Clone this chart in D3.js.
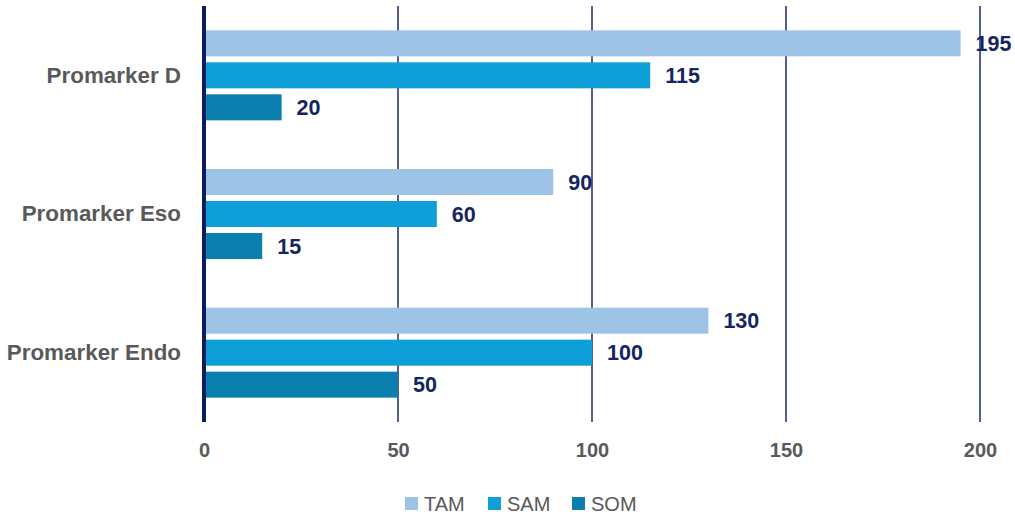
<!DOCTYPE html>
<html><head><meta charset="utf-8">
<script src="https://cdn.jsdelivr.net/npm/d3@7"></script>
<style>body{margin:0;background:#fff}svg{display:block}</style>
</head><body>
<script>
const categories = ["Promarker D", "Promarker Eso", "Promarker Endo"];
const seriesNames = ["TAM", "SAM", "SOM"];
const tam = [195, 90, 130];
const sam = [115, 60, 100];
const som = [20, 15, 50];
const ticks = [0, 50, 100, 150, 200];
const colors = ["#9dc3e6", "#0e9fd8", "#0b7fad"];

const W = 1015, H = 515;
const svg = d3.select("body").append("svg").attr("width", W).attr("height", H);
const font = "'Liberation Sans', Arial, sans-serif";

const x = d3.scaleLinear().domain([0, 200]).range([204, 980]);
const y = d3.scaleBand().domain(categories).range([6, 422]);
const inner = d3.scaleBand().domain(seriesNames).range([y.bandwidth()/2 - 45, y.bandwidth()/2 + 45]).paddingInner(0.1875);

// gridlines
svg.append("g").selectAll("line").data(ticks.slice(1)).join("line")
  .attr("x1", d => x(d)).attr("x2", d => x(d))
  .attr("y1", 6).attr("y2", 422)
  .attr("stroke", "#1b2a6b").attr("stroke-width", 1.5);

const series = [tam, sam, som];
const groups = svg.append("g").selectAll("g").data(categories).join("g")
  .attr("transform", d => `translate(0,${y(d)})`);

seriesNames.forEach((s, si) => {
  groups.append("rect")
    .attr("x", x(0))
    .attr("y", inner(s))
    .attr("width", (d, i) => x(series[si][i]) - x(0))
    .attr("height", inner.bandwidth())
    .attr("fill", colors[si]);
  groups.append("text")
    .attr("x", (d, i) => x(series[si][i]) + 15)
    .attr("y", inner(s) + inner.bandwidth()/2)
    .attr("dy", "0.35em")
    .attr("font-family", font).attr("font-weight", "bold").attr("font-size", 21.5)
    .attr("fill", "#15255f")
    .text((d, i) => series[si][i]);
});

// axis line
svg.append("line").attr("x1", x(0)).attr("x2", x(0)).attr("y1", 6).attr("y2", 422)
  .attr("stroke", "#0b1d5e").attr("stroke-width", 4);

// x tick labels
const xAxis = d3.axisBottom(x).tickValues(ticks).tickSize(0).tickPadding(0);
const gx = svg.append("g").attr("transform", "translate(0,443)").call(xAxis);
gx.select(".domain").remove();
gx.selectAll("text").attr("font-family", font).attr("font-weight", "bold")
  .attr("font-size", 20).attr("fill", "#595959").attr("dy", "0.72em");

// category labels
const yAxis = d3.axisLeft(y).tickSize(0).tickPadding(0);
const gy = svg.append("g").attr("transform", "translate(181,0)").call(yAxis);
gy.select(".domain").remove();
gy.selectAll("text").attr("font-family", font).attr("font-weight", "bold")
  .attr("font-size", 22.4).attr("fill", "#595959");

// legend
const legX = [405, 488, 572];
const leg = svg.append("g").selectAll("g").data(seriesNames).join("g")
  .attr("transform", (d, i) => `translate(${legX[i]},497)`);
leg.append("rect").attr("width", 13).attr("height", 13).attr("y", 0).attr("fill", (d, i) => colors[i]);
leg.append("text").attr("x", 19).attr("y", 6.5).attr("dy", "0.36em")
  .attr("font-family", font).attr("font-size", 20).attr("fill", "#595959").text(d => d);
</script>
</body></html>
